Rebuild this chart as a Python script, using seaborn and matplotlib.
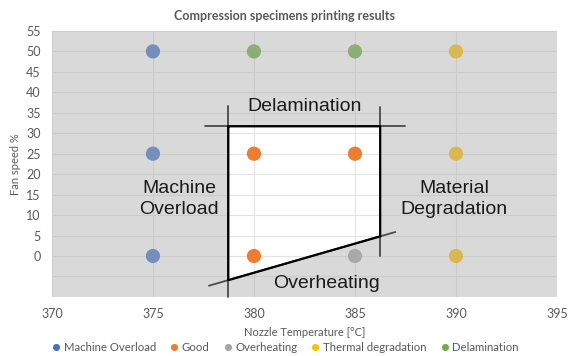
import numpy as np
import pandas as pd
import matplotlib
matplotlib.use('Agg')
import matplotlib.pyplot as plt
from matplotlib.path import Path
from matplotlib.patches import PathPatch
import seaborn as sns

# printing results, one row per specimen
temps = [375, 375, 375, 380, 380, 385, 385, 390, 390, 390, 380, 385]
fans = [0, 25, 50, 0, 25, 25, 0, 0, 25, 50, 50, 50]
results = ['Machine Overload', 'Machine Overload', 'Machine Overload',
           'Good', 'Good', 'Good', 'Overheating',
           'Thermal degradation', 'Thermal degradation', 'Thermal degradation',
           'Delamination', 'Delamination']
categories = ['Machine Overload', 'Good', 'Overheating', 'Thermal degradation', 'Delamination']
colors = ['#4472C4', '#ED7D31', '#A5A5A5', '#FFC000', '#70AD47']

# process window boundaries (data units)
t_low, t_high = 378.73, 386.25
fan_top = 31.7
diag_low, diag_high = -5.9, 4.8

df = pd.DataFrame({'temp': temps, 'fan': fans, 'result': results})

sns.set_style('white')
plt.rcParams['font.family'] = ['Lato', 'DejaVu Sans']
txt = '#595959'

fig = plt.figure(figsize=(5.68, 3.56), dpi=100)
ax = fig.add_axes([0.0915, 0.166, 0.889, 0.747])

sns.scatterplot(data=df, x='temp', y='fan', hue='result', hue_order=categories,
                palette=colors, s=105, linewidth=0, ax=ax, zorder=3)

ax.set_xlim(370, 395)
ax.set_ylim(-10, 55)
ax.set_xticks(np.arange(370, 396, 5))
yt = np.arange(-10, 56, 5)
ax.set_yticks(yt)
ax.set_yticklabels([str(v) if v >= 0 else '' for v in yt])
ax.grid(True, color='#E4E4E4', lw=0.8, zorder=0)
ax.set_axisbelow(True)
for s in ax.spines.values():
    s.set_visible(False)
ax.tick_params(length=0, labelsize=9, colors=txt, pad=8)
ax.set_xlabel('Nozzle Temperature [°C]', fontsize=8, color=txt, labelpad=5)
ax.set_ylabel('Fan speed %', fontsize=8, color=txt, labelpad=4)

# grey veil over everything outside the process window
x0, x1 = ax.get_xlim()
y0, y1 = ax.get_ylim()
outer = [(x0, y0), (x1, y0), (x1, y1), (x0, y1), (x0, y0)]
inner = [(t_low, fan_top), (t_high, fan_top), (t_high, diag_high), (t_low, diag_low), (t_low, fan_top)]
verts = outer + inner
codes = ([Path.MOVETO] + [Path.LINETO] * 3 + [Path.CLOSEPOLY]) * 2
veil = PathPatch(Path(verts, codes), facecolor='#AFAFAF', alpha=0.47, lw=0, zorder=4)
ax.add_patch(veil)

# window border and extension lines
ln = '#4a4a4a'
slope = (diag_high - diag_low) / (t_high - t_low)
ax.plot([377.57, 387.5], [fan_top, fan_top], color=ln, lw=1.3, zorder=5)
ax.plot([t_low, t_low], [36.7, -10], color=ln, lw=1.3, zorder=5, clip_on=False)
ax.plot([t_high, t_high], [36.5, 0.0], color=ln, lw=1.3, zorder=5)
ax.plot([377.77, 387.0], [diag_low + slope * (377.77 - t_low), diag_low + slope * (387.0 - t_low)],
        color=ln, lw=1.3, zorder=5)
bx = [t_low, t_high, t_high, t_low, t_low]
by = [fan_top, fan_top, diag_high, diag_low, fan_top]
ax.plot(bx, by, color='black', lw=1.6, zorder=6)

ann = dict(fontsize=14, color='#1a1a1a', family=['Liberation Sans', 'DejaVu Sans'],
           ha='center', va='center', zorder=7)
ax.text(382.5, 36.5, 'Delamination', **ann)
ax.text(376.3, 14, 'Machine\nOverload', linespacing=1.3, **ann)
ax.text(389.9, 14, 'Material\nDegradation', linespacing=1.3, **ann)
ax.text(383.6, -6.7, 'Overheating', **ann)

fig.text(0.5, 0.955, 'Compression specimens printing results', ha='center', va='center',
         fontsize=9, fontweight='bold', color=txt)

sns.move_legend(ax, 'lower center', bbox_to_anchor=(0.5, -0.02), bbox_transform=fig.transFigure,
                ncol=5, frameon=False, title=None, fontsize=8.2, markerscale=0.5,
                handletextpad=0.05, handlelength=1.2, columnspacing=1.0, labelcolor=txt)

fig.savefig('out.png', dpi=100)
